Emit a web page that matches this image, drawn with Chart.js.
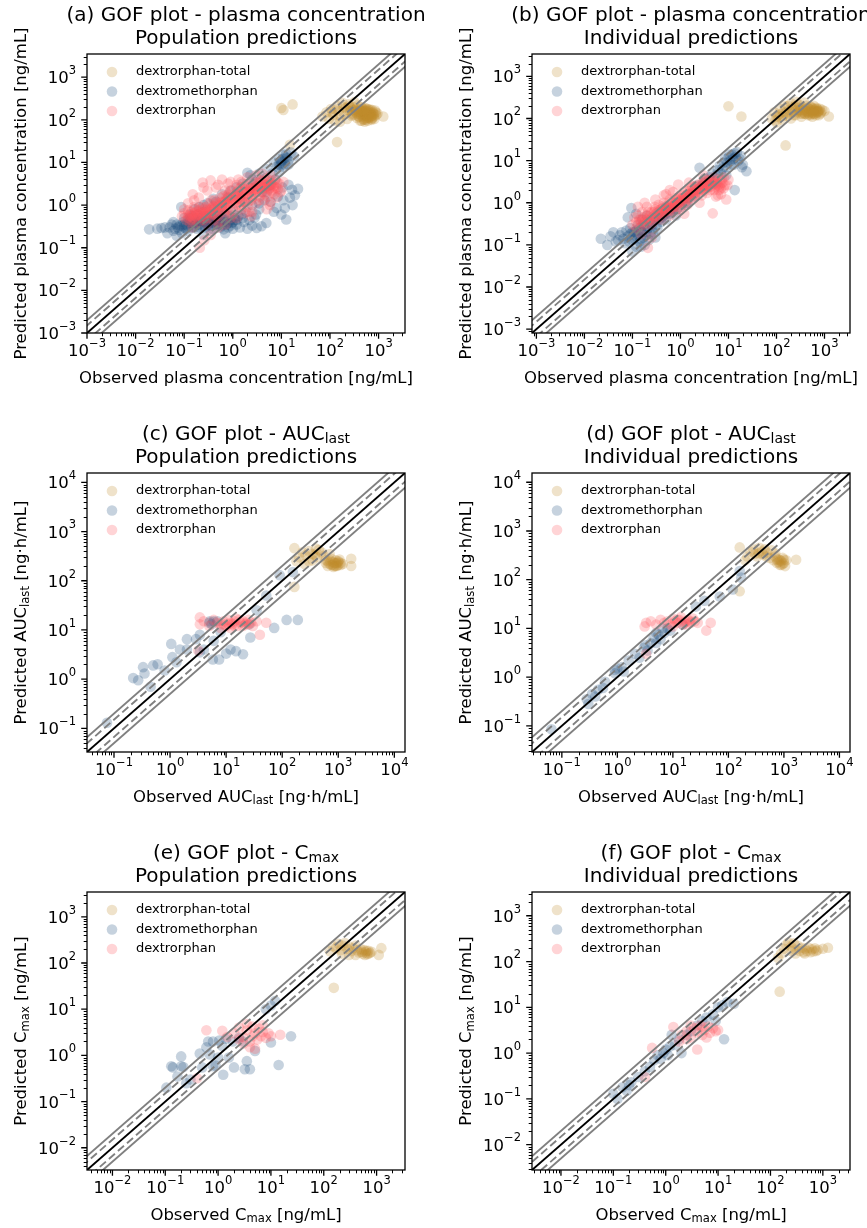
<!DOCTYPE html>
<html>
<head>
<meta charset="utf-8">
<script src="https://cdn.jsdelivr.net/npm/chart.js@4/dist/chart.umd.min.js"></script>
<style>
  html, body { margin: 0; padding: 0; background: #fff; }
  #wrap { position: relative; width: 867px; height: 1228px; overflow: hidden; background: #fff; }
  #wrap canvas { position: absolute; left: 0; top: 0; }
</style>
</head>
<body>
<div id="wrap"></div>
<script>
// ---- series labels ----
const seriesNames = ['dextrorphan-total', 'dextromethorphan', 'dextrorphan'];

// ---- tick exponents (labels 10^n) ----
const plasmaTicks = [-3, -2, -1, 0, 1, 2, 3];
const aucTicks = [-1, 0, 1, 2, 3, 4];
const cmaxTicks = [-2, -1, 0, 1, 2, 3];

// ---- fold-error reference lines ----
const foldSolid = 2;
const foldDashed = 1.5;

// ---- plasma concentration, population predictions [observed, predicted] ----
const plasmaPopTotal = [[10,190],[11,170],[17,230],[140,30],[15,26],[1250,120],
  [70,120],[85,150],[95,105],[105,180],[115,130],[125,95],[140,210],[150,160],[165,120],[180,250],[195,140],[210,190],[225,105],[240,230],[260,160],[280,125],[300,200],[320,260],[340,150],[360,110],[380,180],[400,140],[420,95],[440,200],[460,160],[480,120],[500,175],[520,90],[540,140],[560,185],[590,110],[620,160],[650,130],[680,175],[720,100],[760,150],[800,120],[850,165],[900,130],[420,175],[480,150],[550,165],[600,135],[650,170],[500,100],[450,95],[700,140],[300,170],[250,210],
  [110,150],[130,175],[160,90],[190,200],[230,170],[270,190],[290,140],[330,175],[370,220],[390,120],[410,160],[430,130],[470,185],[490,105],[510,160],[530,125],[570,150],[600,180],[630,115],[670,150],[700,120],[740,170],[780,135],[820,105],[880,150],[950,140],[600,95],[550,110],[450,140],[520,190],
  [300,130],[350,140],[400,120],[450,150],[500,130],[550,130],[600,120],[650,140],[700,130],[750,125],[800,140],[500,160],[450,170],[400,160],[350,160],[600,145],[550,100],[650,110],[700,105],[750,110]];
const plasmaPopDM = [[0.019,0.27],[0.028,0.28],[0.034,0.29],[0.05,0.3],[0.045,0.22],[0.06,0.25],[0.075,0.3],[0.07,0.19],[0.09,0.22],[0.087,0.9],[0.1,0.35],[0.11,0.28],[0.12,0.45],[0.13,0.6],[0.14,0.3],[0.15,0.38],[0.16,0.8],[0.17,0.5],[0.18,0.28],[0.2,0.42],[0.22,0.33],[0.24,0.55],[0.25,0.7],[0.27,0.3],[0.3,0.45],[0.32,0.38],[0.35,0.6],[0.38,0.28],[0.4,0.5],[0.45,0.35],[0.5,0.42],[0.55,0.3],[0.6,0.55],[0.65,0.27],[0.7,0.4],[0.8,0.3],[0.9,0.45],[1.0,0.28],[1.2,0.35],[1.4,0.3],[1.7,0.4],[2.0,0.28],[2.5,0.33],[3.1,0.29],[3.9,0.32],[4.9,0.38],[0.2,0.9],[0.3,1.1],[0.45,1.2],[0.6,0.9],[0.8,1.5],[1.0,0.8],[1.3,1.8],[1.8,1.2],[2.3,2.5],[2.0,5.7],[2.3,5.0],[3.0,3.5],[4.0,2.0],[4.5,4.2],[5.5,2.8],[6.5,5.5],[8,8],[9,12],[10,10],[11,15],[12,9],[13,13],[14,11],[16,17],[18,14],[9,6],[8,0.85],[10,0.6],[12.6,0.46],[11.8,0.85],[17,1.0],[15,1.5],[16.6,2.3],[22,2.4],[6,1.2],[7,0.7],[3,0.6],[2.5,1.0],[0.12,0.25],[0.08,0.33],[0.15,0.55],[0.35,0.25],[0.5,0.65],[0.7,0.22],[1.5,0.6],[0.25,0.2],[0.06,0.4],[0.4,0.8],[1.1,0.5],
  [0.04,0.3],[0.055,0.35],[0.065,0.28],[0.08,0.26],[0.095,0.4],[0.1,0.5],[0.11,0.35],[0.13,0.42],[0.14,0.5],[0.16,0.35],[0.18,0.45],[0.19,0.6],[0.21,0.3],[0.23,0.48],[0.26,0.4],[0.28,0.55],[0.31,0.33],[0.34,0.48],[0.37,0.4],[0.42,0.6],[0.46,0.45],[0.52,0.35],[0.58,0.5],[0.62,0.4],[0.68,0.6],[0.75,0.35],[0.85,0.55],[0.95,0.38],[1.1,0.45],[1.3,0.55],[1.6,0.5],[1.9,0.7],[2.2,0.45],[2.8,0.5],[3.5,0.8],[0.25,1.0],[0.4,1.4],[0.6,1.8],[0.9,2.2],[1.2,2.6],[1.6,3.2],[2.5,4.0],[3.5,5.5],[5,7],[7,10],[9.5,8.5],[11,12],[12.5,16],[14,9],[7.5,4],[6,3],[5,2],[4.5,1.3],[3.5,1.1],[8.5,1.6],[10.5,2.6],[14,3],[19,1.7],[11,1.3],
  [0.1,0.3],[0.12,0.32],[0.14,0.38],[0.16,0.3],[0.18,0.4],[0.2,0.35],[0.22,0.42],[0.25,0.33],[0.28,0.4],[0.3,0.35],[0.33,0.42],[0.36,0.33],[0.4,0.38],[0.45,0.42],[0.5,0.35],[0.55,0.45],[0.6,0.33],[0.7,0.45],[0.8,0.38],[0.9,0.33],[1.0,0.4],[1.2,0.45],[0.09,0.33],[0.07,0.35],[0.13,0.5],[0.2,0.5],[0.3,0.55],[0.15,0.45],[10,11],[12,13],[9,9],[11,8]];
const plasmaPopDX = [[0.09,0.55],[0.1,0.8],[0.11,0.45],[0.12,0.6],[0.13,0.4],[0.14,0.7],[0.15,0.5],[0.16,0.9],[0.17,0.45],[0.18,0.6],[0.2,0.75],[0.2,0.4],[0.22,0.55],[0.24,0.9],[0.25,0.45],[0.27,0.65],[0.3,0.8],[0.3,0.5],[0.33,1.1],[0.35,0.6],[0.38,0.85],[0.4,0.45],[0.42,1.3],[0.45,0.7],[0.5,1.0],[0.5,0.55],[0.55,1.5],[0.6,0.8],[0.65,1.2],[0.7,0.6],[0.75,1.6],[0.8,1.0],[0.85,2.0],[0.9,0.75],[1.0,1.3],[1.0,0.6],[1.1,1.8],[1.2,1.0],[1.3,2.4],[1.4,1.4],[1.5,0.8],[1.6,2.0],[1.7,1.2],[1.8,2.8],[2.0,1.6],[2.0,0.9],[2.2,2.2],[2.4,1.3],[2.6,3.0],[2.8,1.8],[3.0,2.4],[3.0,1.1],[3.3,3.3],[3.6,1.6],[3.8,2.6],[4.0,3.6],[4.2,1.3],[4.5,2.0],[4.8,3.0],[5.0,4.2],[5.2,1.6],[5.5,2.4],[6.0,3.4],[6.0,1.2],[6.5,2.0],[7.0,2.8],[7.5,4.0],[8.0,1.5],[8.5,2.4],[9.0,3.2],[5,0.8],[0.24,3.4],[0.35,3.8],[0.6,4.0],[0.3,2.2],[0.45,2.6],[0.8,3.2],[0.2,1.5],[0.12,1.1],[0.21,0.1],[0.26,0.15],[0.35,0.2],[0.5,0.3],[0.7,0.35],[1.2,0.5],[2.5,0.7],[1.5,3.5],[2,4.5],[3,5],[0.15,0.3],[0.16,1.3],[0.7,2.2],[1.2,3.0],[2.4,0.55],[10,2.2],[11,3.5],[4,5.5],[6,5],
  [0.1,0.65],[0.12,0.75],[0.13,0.55],[0.14,0.45],[0.16,0.65],[0.17,0.8],[0.19,0.5],[0.21,0.9],[0.23,0.65],[0.26,0.55],[0.28,0.9],[0.31,0.65],[0.34,0.75],[0.36,1.3],[0.4,0.95],[0.43,0.6],[0.47,1.1],[0.52,0.8],[0.56,1.2],[0.6,1.0],[0.63,1.6],[0.68,0.9],[0.72,1.3],[0.78,0.8],[0.82,1.8],[0.9,1.4],[0.95,2.2],[1.05,1.1],[1.15,1.5],[1.25,2.1],[1.35,0.9],[1.45,2.6],[1.55,1.2],[1.65,1.8],[1.75,2.4],[1.9,3.1],[2.1,1.2],[2.3,2.6],[2.5,1.6],[2.7,2.3],[2.9,3.4],[3.1,2.0],[3.4,2.8],[3.5,1.3],[3.7,3.8],[3.9,2.1],[4.1,3.0],[4.4,2.6],[4.6,1.8],[4.9,3.6],[5.3,2.8],[5.7,3.8],[6.2,2.2],[6.8,3.2],[7.2,1.8],[7.8,2.6],[8.2,3.4],[9.5,2.0],[5.8,1.0],[2.2,0.7],[1.8,0.65],[0.9,0.5],[0.5,0.4],[0.3,0.35],[1.3,4],[0.9,3.5],[0.5,3],[0.25,2.6],[0.15,1.8],
  [0.15,0.6],[0.18,0.7],[0.2,0.6],[0.22,0.7],[0.25,0.8],[0.28,0.7],[0.3,0.6],[0.33,0.8],[0.36,0.7],[0.4,0.9],[0.45,0.8],[0.5,0.9],[0.55,1.0],[0.6,1.1],[0.65,1.0],[0.7,1.2],[0.75,1.1],[0.8,1.4],[0.9,1.2],[1.0,1.5],[1.1,1.3],[1.2,1.6],[1.3,1.5],[1.4,1.8],[1.5,1.7],[1.6,1.5],[1.8,2.0],[2.0,2.0],[2.2,2.4],[2.4,2.0],[2.6,2.5],[2.8,2.2],[3.0,2.8],[3.3,2.4],[3.6,2.9],[4.0,2.5],[4.4,3.2],[4.8,2.6],[5.2,3.0],[5.8,2.6],[6.4,3.0],[7,2.5],[0.12,0.5],[0.14,0.55],[0.17,0.55],[0.24,0.5],[0.45,0.55],[0.65,0.7],[1.5,1.0],[2.5,1.5]];

// ---- plasma concentration, individual predictions ----
const plasmaIndTotal = [[10,195],[18.6,112],[155,23],[1230,112],[80,100],[90,140],[100,80],[110,120],[120,170],[130,95],[140,140],[150,200],[170,115],[185,160],[200,230],[220,140],[240,190],[260,250],[280,160],[300,210],[320,130],[350,180],[380,240],[400,150],[420,200],[450,120],[480,170],[500,140],[530,190],[560,110],[600,160],[640,130],[680,180],[720,150],[760,120],[800,170],[850,140],[900,160],[1000,150],[450,180],[550,150],[650,165],[350,140],[250,120],[200,100],
  [95,90],[105,110],[120,130],[135,115],[160,140],[175,200],[190,130],[210,170],[230,120],[250,200],[270,140],[290,180],[310,160],[330,110],[370,160],[390,130],[410,170],[440,150],[470,130],[500,190],[520,160],[540,130],[570,175],[620,150],[660,120],[700,170],[740,140],[780,155],[820,130],[600,200],
  [300,150],[350,130],[400,130],[450,140],[500,150],[550,140],[600,140],[650,150],[700,140],[750,150],[500,120],[600,130]];
const plasmaIndDM = [[0.022,0.14],[0.03,0.1],[0.035,0.16],[0.05,0.13],[0.06,0.2],[0.07,0.11],[0.08,0.16],[0.095,0.75],[0.09,0.25],[0.1,0.13],[0.11,0.2],[0.12,0.16],[0.13,0.3],[0.14,0.12],[0.15,0.22],[0.16,0.4],[0.17,0.15],[0.18,0.28],[0.2,0.2],[0.2,0.5],[0.22,0.13],[0.25,0.3],[0.27,0.2],[0.3,0.45],[0.33,0.25],[0.35,0.6],[0.4,0.35],[0.45,0.5],[0.5,0.4],[0.5,0.8],[0.6,0.55],[0.7,0.7],[0.8,0.5],[0.9,1.0],[1.0,0.8],[1.2,1.3],[1.4,1.0],[1.6,1.6],[2.0,1.4],[2.5,2.2],[2.5,6.8],[3,3],[3.5,2.5],[4,4],[5,3.5],[6,6],[7,5],[8,9],[9,7],[10,12],[11,10],[12,14],[13,8],[14,12],[15,16],[16,10],[18,13],[13.5,2.0],[23.7,5.6],[20,8],[9,4.5],[0.12,0.55],[0.08,0.45],[0.15,0.09],[0.3,0.15],[0.18,0.1],[0.1,0.07],[0.12,0.09],
  [0.04,0.2],[0.045,0.12],[0.055,0.17],[0.065,0.14],[0.075,0.22],[0.085,0.12],[0.09,0.18],[0.1,0.2],[0.11,0.14],[0.12,0.22],[0.13,0.17],[0.14,0.25],[0.15,0.14],[0.16,0.2],[0.17,0.3],[0.19,0.17],[0.21,0.25],[0.23,0.35],[0.24,0.18],[0.26,0.25],[0.28,0.4],[0.32,0.3],[0.36,0.4],[0.42,0.45],[0.5,0.55],[0.55,0.7],[0.65,0.6],[0.75,0.85],[0.85,0.7],[1.1,1.1],[1.3,0.9],[1.5,1.3],[1.8,1.8],[2.2,2.6],[2.8,2.5],[3.2,3.8],[4.5,5],[5.5,4.5],[6.5,7.5],[7.5,6.5],[8.5,11],[9.5,9],[10.5,14],[11.5,8],[12.5,11],[13.5,15],[17,11],[19,7]];
const plasmaIndDX = [[0.1,0.3],[0.11,0.45],[0.12,0.25],[0.13,0.5],[0.15,0.35],[0.16,0.6],[0.18,0.3],[0.2,0.5],[0.2,0.8],[0.22,0.4],[0.25,0.6],[0.27,0.35],[0.3,0.7],[0.32,0.45],[0.35,0.9],[0.38,0.55],[0.4,0.4],[0.42,0.75],[0.45,1.0],[0.5,0.6],[0.55,0.9],[0.6,0.5],[0.6,1.2],[0.65,0.75],[0.7,1.0],[0.75,0.6],[0.8,1.3],[0.85,0.8],[0.9,1.1],[1.0,0.7],[1.0,1.5],[1.1,1.0],[1.2,1.8],[1.3,1.2],[1.4,0.9],[1.5,1.6],[1.6,2.2],[1.7,1.3],[1.8,1.9],[2.0,1.5],[2.0,2.5],[2.2,1.8],[2.4,2.8],[2.6,2.0],[2.8,1.5],[3.0,2.6],[3.2,3.2],[3.4,2.2],[3.6,1.7],[3.8,2.8],[4.0,3.5],[4.3,2.4],[4.7,3.0],[5.0,2.0],[5.0,4.0],[5.5,3.2],[6.0,2.6],[6.5,3.6],[7.0,2.2],[7.5,3.0],[8.0,4.0],[8.5,2.6],[9,1.2],[4.7,0.56],[0.9,2.7],[0.6,2.0],[0.3,1.2],[0.45,1.5],[0.21,0.085],[0.25,0.15],[0.15,0.18],[0.18,1.0],[0.13,0.8],[1.2,0.55],[2.5,1.0],[6,1.5],[10,3.5],[3,4.5],[1.5,3.0],
  [0.12,0.35],[0.14,0.4],[0.16,0.3],[0.17,0.45],[0.19,0.4],[0.21,0.6],[0.23,0.5],[0.24,0.3],[0.26,0.45],[0.28,0.6],[0.29,0.8],[0.31,0.55],[0.34,0.65],[0.36,0.45],[0.39,0.7],[0.41,0.55],[0.44,0.85],[0.47,0.65],[0.52,0.75],[0.57,0.65],[0.62,0.85],[0.67,1.1],[0.72,0.8],[0.78,1.0],[0.83,1.2],[0.88,0.9],[0.95,1.3],[1.05,1.2],[1.15,1.5],[1.25,1.0],[1.35,1.4],[1.45,1.9],[1.55,1.2],[1.65,1.6],[1.75,2.4],[1.9,1.7],[2.1,2.1],[2.3,1.6],[2.5,2.6],[2.7,2.2],[2.9,3.0],[3.1,1.9],[3.3,2.6],[3.5,3.4],[3.7,2.3],[3.9,3.2],[4.2,2.0],[4.5,2.8],[4.9,3.4],[5.3,2.4],[5.8,3.0],[6.3,2.0],[6.8,2.8],[7.3,3.6],[8,2.2],[9.5,2.6],[5.5,1.4],[7,1.6],[0.5,1.6],[0.7,1.8],
  [0.2,0.35],[0.25,0.4],[0.3,0.5],[0.35,0.5],[0.4,0.6],[0.45,0.6],[0.5,0.7],[0.55,0.7],[0.6,0.8],[0.7,0.8],[0.8,0.9],[0.9,1.0],[1.0,1.1],[1.1,1.3],[1.2,1.3],[1.4,1.5],[1.6,1.7],[1.8,1.6],[2.0,2.0],[2.3,2.0],[2.6,2.4],[3.0,2.2],[3.4,2.6],[3.8,2.5],[4.3,3.0],[5,2.8],[5.5,2.6],[6.5,2.4],[0.15,0.4],[0.17,0.35]];

// ---- AUClast, population predictions ----
const aucPopTotal = [[165,460],[165,75],[200,300],[230,380],[260,330],[300,400],[350,350],[400,450],[420,300],[500,380],[550,320],[600,260],[650,250],[700,220],[750,280],[800,240],[850,200],[900,260],[950,230],[1000,210],[1050,270],[1100,230],[1200,220],[1700,280],[1700,200],[300,250],[250,220],[450,420],[700,350],[900,200],[1000,250],[800,210],[650,200],[180,250],[350,260],[600,230],[700,260],[750,210],[850,230],[950,200],[1000,240],[1100,210],[900,230],[820,190],[380,330]];
const aucPopDM = [[0.075,0.13],[0.22,1.05],[0.27,0.95],[0.33,1.75],[0.35,1.3],[0.5,1.9],[0.6,2.0],[0.45,0.7],[1.05,5.2],[1.1,2.8],[1.5,4.0],[2.0,6.5],[2.9,6.5],[3.4,8.0],[3.4,3.5],[5.8,2.5],[5,14],[5.5,13],[6,15],[5.1,15],[7.5,2.5],[10,3.3],[12,4.0],[15,3.7],[20,3.2],[6,6],[7,15],[26,13],[27,7],[72,11],[120,16],[190,16],[90,130],[155,150],[52,50],[35,25],[2,4],[4,4],[8,9],[1.3,2.2],[0.8,1.5]];
const aucPopDX = [[3.4,18],[3.4,13],[4,15],[5,12],[6,16],[7,14],[8,13],[9,15],[10,12],[11,16],[12,14],[13,13],[14,15],[15,17],[16,12],[18,14],[20,15],[22,13],[25,16],[28,14],[30,12],[35,15],[40,8],[52,14],[3.2,3.8],[8,11],[12,11],[20,12],[25,13],[9,13],[14,12],[17,16],[23,14],[11,13]];

// ---- AUClast, individual predictions ----
const aucIndTotal = [[160,460],[160,58],[220,300],[250,380],[280,420],[300,340],[330,300],[360,450],[400,380],[420,330],[450,420],[480,300],[500,360],[550,280],[600,400],[650,250],[700,300],[750,220],[800,260],[850,200],[900,240],[950,280],[1000,220],[1050,190],[1100,250],[1660,257],[1000,260],[900,200],[800,230],[700,350],[200,250],[350,350],[850,250],[950,210],[750,260]];
const aucIndDM = [[0.065,0.085],[0.28,0.35],[0.3,0.28],[0.35,0.45],[0.4,0.4],[0.45,0.55],[0.55,0.6],[0.6,0.8],[0.9,1.2],[1.2,1.6],[1.3,1.3],[1.6,2.2],[2.1,3.0],[2.5,2.5],[3,4],[3.5,3.5],[4,5],[4.5,6.5],[5,5],[5.5,7.5],[6,6],[7,8],[8,10],[9,9],[26,28],[37,37],[70,45],[120,63],[170,110],[160,150],[3.2,4.5],[5,8],[6.5,10],[1,1.5],[15,12],[0.9,1.4]];
const aucIndDX = [[3.3,13],[3.1,11],[4,14],[5,12],[6,15],[7,13],[8,14],[9,12],[10,16],[11,14],[12,13],[13,15],[14,17],[15,12],[17,14],[19,15],[21,13],[23,16],[25,14],[28,13],[40,9],[48,13],[3.3,3],[10,11],[18,12],[12,15],[16,13],[20,14]];

// ---- Cmax, population predictions ----
const cmaxPopTotal = [[155,29],[1230,210],[1100,150],[130,180],[150,230],[170,210],[190,260],[210,190],[230,240],[250,270],[280,200],[300,230],[330,180],[360,210],[400,150],[430,190],[460,170],[500,200],[540,160],[580,190],[620,170],[660,155],[700,185],[750,165],[800,175],[400,240],[220,160],[300,150],[600,150],[700,160],[520,175],[640,185]];
const cmaxPopDM = [[0.105,0.2],[0.13,0.58],[0.14,0.55],[0.2,0.58],[0.22,0.56],[0.2,0.95],[0.45,1.1],[0.5,0.55],[0.65,2],[0.8,2],[1.05,2.1],[1.4,2.3],[1.9,2],[0.8,0.58],[0.9,0.6],[1.25,0.38],[2,0.55],[3.5,0.75],[3.2,0.5],[4,0.5],[5,1.25],[10,1.9],[14,0.62],[24,2.6],[10,12],[12,15],[0.7,1.05],[0.3,0.3],[0.25,0.25],[0.6,1.5],[1.2,1.6],[2.5,2.4],[3,2],[1.6,0.9],[0.17,0.35],[8,10],[1,0.9]];
const cmaxPopDX = [[0.6,3.5],[1.2,3.4],[0.4,0.32],[2,3],[2.5,4],[3,2.5],[3.5,3.5],[4,2],[4.5,4.2],[5,3],[5.5,2.2],[6,3.8],[6.5,2.6],[7,3.2],[8,2.4],[9,3],[3,1.8],[4,1.5],[5,1.4],[2.5,2.2],[15,2.8],[7,4.5],[3.5,4.8],[10,2.6],[4.5,2.6],[1.5,2.5]];

// ---- Cmax, individual predictions ----
const cmaxIndTotal = [[150,22],[1250,200],[140,120],[160,150],[180,190],[200,230],[220,260],[250,210],[280,250],[300,180],[330,220],[360,170],[400,200],[430,160],[460,190],[500,170],[540,200],[580,160],[620,185],[660,165],[700,195],[750,170],[800,180],[1000,190],[450,150],[300,150],[250,170]];
const cmaxIndDM = [[0.1,0.13],[0.12,0.1],[0.15,0.18],[0.18,0.15],[0.2,0.2],[0.22,0.23],[0.3,0.3],[0.4,0.4],[0.5,0.5],[0.6,0.7],[0.7,0.9],[0.8,0.75],[0.9,1.0],[1.0,1.2],[1.1,0.9],[1.2,1.4],[1.3,2.5],[1.5,1.5],[2,1],[1.8,2],[2.5,2.5],[3,3],[4,4],[5,5],[6,6],[8,7],[9,5],[10,10],[12,11],[15,13],[20,12],[13,2]];
const cmaxIndDX = [[0.55,1.3],[1.4,3.7],[4,1.2],[0.4,0.3],[8,3.5],[2,2.5],[2.5,3],[3,2.2],[3.5,3.5],[4,2.8],[4.5,4],[5,2.5],[5.5,3.2],[6,2.2],[6.5,3.8],[7,2.8],[9,3],[3,4],[2.5,2],[5,3.8],[10,3.2],[1.8,1.8]];

// ---- styling ----
const FONT = '"DejaVu Sans", "Liberation Sans", sans-serif';
const pointColors = ['rgba(192,138,43,0.25)', 'rgba(28,76,122,0.25)', 'rgba(255,82,92,0.25)'];
const PAGE_W = 867, PAGE_H = 1228;

const panels = [
  { box: [87, 54, 405, 333], range: [1e-3, 3500], xt: plasmaTicks, yt: plasmaTicks,
    title: ['(a) GOF plot - plasma concentration', 'Population predictions'],
    xl: 'Observed plasma concentration [ng/mL]', yl: 'Predicted plasma concentration [ng/mL]',
    series: [plasmaPopTotal, plasmaPopDM, plasmaPopDX] },
  { box: [532, 54, 850, 333], range: [8.1e-4, 3400], xt: plasmaTicks, yt: plasmaTicks,
    title: ['(b) GOF plot - plasma concentration', 'Individual predictions'],
    xl: 'Observed plasma concentration [ng/mL]', yl: 'Predicted plasma concentration [ng/mL]',
    series: [plasmaIndTotal, plasmaIndDM, plasmaIndDX] },
  { box: [87, 473, 405, 752], range: [0.033, 15500], xt: aucTicks, yt: aucTicks,
    title: ['(c) GOF plot - AUC_{last}', 'Population predictions'],
    xl: 'Observed AUC_{last} [ng·h/mL]', yl: 'Predicted AUC_{last} [ng·h/mL]',
    series: [aucPopTotal, aucPopDM, aucPopDX] },
  { box: [532, 473, 850, 752], range: [0.029, 15500], xt: aucTicks, yt: aucTicks,
    title: ['(d) GOF plot - AUC_{last}', 'Individual predictions'],
    xl: 'Observed AUC_{last} [ng·h/mL]', yl: 'Predicted AUC_{last} [ng·h/mL]',
    series: [aucIndTotal, aucIndDM, aucIndDX] },
  { box: [87, 892, 405, 1170], range: [0.0033, 3450], xt: cmaxTicks, yt: cmaxTicks,
    title: ['(e) GOF plot - C_{max}', 'Population predictions'],
    xl: 'Observed C_{max} [ng/mL]', yl: 'Predicted C_{max} [ng/mL]',
    series: [cmaxPopTotal, cmaxPopDM, cmaxPopDX] },
  { box: [532, 892, 850, 1170], range: [0.0028, 3300], xt: cmaxTicks, yt: cmaxTicks,
    title: ['(f) GOF plot - C_{max}', 'Individual predictions'],
    xl: 'Observed C_{max} [ng/mL]', yl: 'Predicted C_{max} [ng/mL]',
    series: [cmaxIndTotal, cmaxIndDM, cmaxIndDX] }
];

// ---- text helpers (plain text with _{subscript} / ^{superscript}) ----
function parseRich(str) {
  const parts = [];
  const re = /([_^])\{([^}]*)\}/g;
  let last = 0, m;
  while ((m = re.exec(str)) !== null) {
    if (m.index > last) parts.push({ t: str.slice(last, m.index), k: '' });
    parts.push({ t: m[2], k: m[1] === '_' ? 'sub' : 'sup' });
    last = re.lastIndex;
  }
  if (last < str.length) parts.push({ t: str.slice(last), k: '' });
  return parts;
}
function partSize(p, size) { return p.k ? size * 0.7 : size; }
function richWidth(ctx, parts, size) {
  let w = 0;
  for (const p of parts) { ctx.font = partSize(p, size) + 'px ' + FONT; w += ctx.measureText(p.t).width; }
  return w;
}
function drawRich(ctx, str, x, y, size, align) {
  const parts = parseRich(str);
  const w = richWidth(ctx, parts, size);
  let cx = align === 'center' ? x - w / 2 : align === 'right' ? x - w : x;
  ctx.textAlign = 'left';
  ctx.textBaseline = 'alphabetic';
  for (const p of parts) {
    ctx.font = partSize(p, size) + 'px ' + FONT;
    const dy = p.k === 'sub' ? size * 0.16 : p.k === 'sup' ? -size * 0.56 : 0;
    ctx.fillText(p.t, cx, y + dy);
    cx += ctx.measureText(p.t).width;
  }
}
function powLabel(e) { return '10^{' + (e < 0 ? '\u2212' + Math.abs(e) : String(e)) + '}'; }

function minorValues(min, max) {
  const out = [];
  for (let e = Math.floor(Math.log10(min)); e <= Math.ceil(Math.log10(max)); e++) {
    for (let k = 2; k <= 9; k++) {
      const v = k * Math.pow(10, e);
      if (v >= min && v <= max) out.push(v);
    }
  }
  return out;
}

// ---- frame, ticks, labels, titles and legend ----
function makeDecor(p) {
  return {
    id: 'gofDecor',
    afterDatasetsDraw(chart) {
      const ctx = chart.ctx;
      const { left, right, top, bottom } = chart.chartArea;
      const xs = chart.scales.x, ys = chart.scales.y;
      const TICK = 16.5;
      ctx.save();
      ctx.fillStyle = '#000';
      ctx.strokeStyle = '#000';

      // frame
      ctx.lineWidth = 1.3;
      ctx.strokeRect(left, top, right - left, bottom - top);

      // minor ticks
      ctx.lineWidth = 1;
      ctx.beginPath();
      for (const v of minorValues(xs.min, xs.max)) {
        const px = Math.round(xs.getPixelForValue(v)) + 0.5;
        ctx.moveTo(px, bottom); ctx.lineTo(px, bottom + 3.3);
      }
      for (const v of minorValues(ys.min, ys.max)) {
        const py = Math.round(ys.getPixelForValue(v)) + 0.5;
        ctx.moveTo(left, py); ctx.lineTo(left - 3.3, py);
      }
      ctx.stroke();

      // major ticks and labels
      ctx.lineWidth = 1.3;
      ctx.beginPath();
      for (const e of p.xt) {
        const v = Math.pow(10, e);
        if (v < xs.min || v > xs.max) continue;
        const px = xs.getPixelForValue(v);
        ctx.moveTo(px, bottom); ctx.lineTo(px, bottom + 5.8);
      }
      for (const e of p.yt) {
        const v = Math.pow(10, e);
        if (v < ys.min || v > ys.max) continue;
        const py = ys.getPixelForValue(v);
        ctx.moveTo(left, py); ctx.lineTo(left - 5.8, py);
      }
      ctx.stroke();
      for (const e of p.xt) {
        const v = Math.pow(10, e);
        if (v < xs.min || v > xs.max) continue;
        drawRich(ctx, powLabel(e), xs.getPixelForValue(v), bottom + 23, TICK, 'center');
      }
      for (const e of p.yt) {
        const v = Math.pow(10, e);
        if (v < ys.min || v > ys.max) continue;
        drawRich(ctx, powLabel(e), left - 11, ys.getPixelForValue(v) + 6, TICK, 'right');
      }

      // axis labels
      const cx = (left + right) / 2, cy = (top + bottom) / 2;
      drawRich(ctx, p.xl, cx, bottom + 49.5, 16.5, 'center');
      ctx.save();
      ctx.translate(left - 61, cy);
      ctx.rotate(-Math.PI / 2);
      drawRich(ctx, p.yl, 0, 0, 16.5, 'center');
      ctx.restore();

      // title
      drawRich(ctx, p.title[0], cx, top - 33, 20, 'center');
      drawRich(ctx, p.title[1], cx, top - 10, 20, 'center');

      // legend
      for (let i = 0; i < seriesNames.length; i++) {
        const ly = top + 18 + i * 19.5;
        ctx.fillStyle = pointColors[i];
        ctx.beginPath();
        ctx.arc(left + 25, ly, 5.3, 0, Math.PI * 2);
        ctx.fill();
        ctx.fillStyle = '#000';
        ctx.font = '13px ' + FONT;
        ctx.textAlign = 'left';
        ctx.textBaseline = 'middle';
        ctx.fillText(seriesNames[i], left + 49, ly);
      }
      ctx.restore();
    }
  };
}

// ---- build one chart per panel ----
const wrap = document.getElementById('wrap');
const lineSpan = [1e-6, 1e7];

panels.forEach(p => {
  const canvas = document.createElement('canvas');
  canvas.width = PAGE_W; canvas.height = PAGE_H;
  canvas.style.width = PAGE_W + 'px'; canvas.style.height = PAGE_H + 'px';
  wrap.appendChild(canvas);

  const refLine = (k, color, dash, order) => ({
    type: 'scatter', showLine: true, data: lineSpan.map(x => ({ x, y: k * x })),
    borderColor: color, borderWidth: 1.9, borderDash: dash, pointRadius: 0,
    fill: false, order
  });

  const datasets = [
    refLine(1, '#000000', [], 0),
    refLine(foldDashed, '#808080', [8, 4], 1),
    refLine(1 / foldDashed, '#808080', [8, 4], 1),
    refLine(foldSolid, '#808080', [], 1),
    refLine(1 / foldSolid, '#808080', [], 1)
  ];
  p.series.forEach((arr, i) => {
    datasets.push({
      label: seriesNames[i],
      data: arr.map(([x, y]) => ({ x, y })),
      backgroundColor: pointColors[i],
      borderWidth: 0,
      pointRadius: 5.3,
      pointHoverRadius: 5.3,
      order: 4 - i
    });
  });

  const [L, T, R, B] = p.box;
  new Chart(canvas, {
    type: 'scatter',
    data: { datasets },
    options: {
      responsive: false,
      devicePixelRatio: 1,
      animation: false,
      events: [],
      layout: { padding: { left: L, top: T, right: PAGE_W - R, bottom: PAGE_H - B } },
      scales: {
        x: { type: 'logarithmic', min: p.range[0], max: p.range[1], display: false },
        y: { type: 'logarithmic', min: p.range[0], max: p.range[1], display: false }
      },
      plugins: { legend: { display: false }, tooltip: { enabled: false } }
    },
    plugins: [makeDecor(p)]
  });
});
</script>
</body>
</html>
